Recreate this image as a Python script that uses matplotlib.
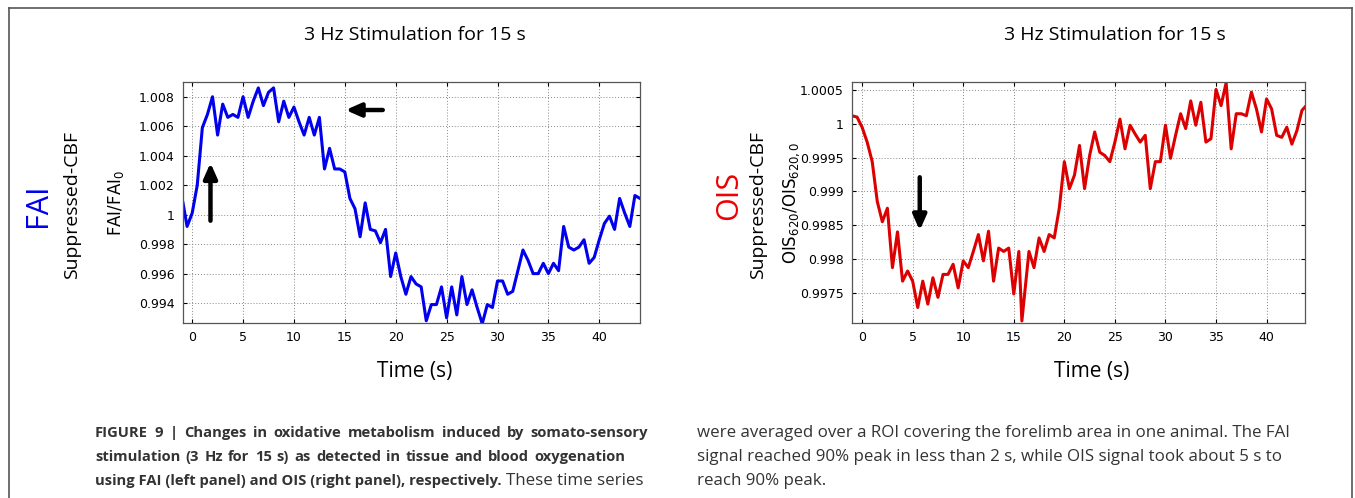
import numpy as np
import matplotlib
matplotlib.use("Agg")
import matplotlib.pyplot as plt
from matplotlib.lines import Line2D

fai_t = [-0.9, -0.5, 0, 0.5, 1, 1.5, 2, 2.5, 3, 3.5, 4, 4.5, 5, 5.5, 6, 6.5, 7, 7.5, 8, 8.5, 9, 9.5,
         10, 10.5, 11, 11.5, 12, 12.5, 13, 13.5, 14, 14.5, 15, 15.5, 16, 16.5, 17, 17.5, 18, 18.5, 19,
         19.5, 20, 20.5, 21, 21.5, 22, 22.5, 23, 23.5, 24, 24.5, 25, 25.5, 26, 26.5, 27, 27.5, 28, 28.5,
         29, 29.5, 30, 30.5, 31, 31.5, 32, 32.5, 33, 33.5, 34, 34.5, 35, 35.5, 36, 36.5, 37, 37.5, 38,
         38.5, 39, 39.5, 40, 40.5, 41, 41.5, 42, 42.5, 43, 43.5, 44]
fai_v = [1.0008, 0.9992, 1.0001, 1.0020, 1.0059, 1.0068, 1.0080, 1.0054, 1.0075, 1.0066, 1.0068, 1.0066,
         1.0080, 1.0066, 1.0077, 1.0086, 1.0074, 1.0083, 1.0086, 1.0063, 1.0077, 1.0066, 1.0073, 1.0063,
         1.0054, 1.0066, 1.0054, 1.0066, 1.0031, 1.0045, 1.0031, 1.0031, 1.0029, 1.0011, 1.0004, 0.9985,
         1.0008, 0.9990, 0.9989, 0.9981, 0.9990, 0.9958, 0.9974, 0.9958, 0.9946, 0.9958, 0.9953, 0.9951,
         0.9928, 0.9939, 0.9939, 0.9951, 0.9930, 0.9951, 0.9932, 0.9958, 0.9939, 0.9949, 0.9937, 0.9926,
         0.9939, 0.9937, 0.9955, 0.9955, 0.9946, 0.9948, 0.9962, 0.9976, 0.9969, 0.9960, 0.9960, 0.9967,
         0.9960, 0.9967, 0.9962, 0.9992, 0.9978, 0.9976, 0.9978, 0.9983, 0.9967, 0.9971, 0.9983, 0.9994,
         0.9999, 0.9990, 1.0011, 1.0001, 0.9992, 1.0013, 1.0011]

ois_t = [-1, -0.5, 0, 0.5, 1, 1.5, 2, 2.5, 3, 3.5, 4, 4.5, 5, 5.5, 6, 6.5, 7, 7.5, 8, 8.5, 9, 9.5,
         10, 10.5, 11, 11.5, 12, 12.5, 13, 13.5, 14, 14.5, 15, 15.5, 15.8, 16.5, 17, 17.5, 18, 18.5, 19,
         19.5, 20, 20.5, 21, 21.5, 22, 22.5, 23, 23.5, 24, 24.5, 25, 25.5, 26, 26.5, 27, 27.5, 28, 28.5,
         29, 29.5, 30, 30.5, 31, 31.5, 32, 32.5, 33, 33.5, 34, 34.5, 35, 35.5, 36, 36.5, 37, 37.5, 38,
         38.5, 39, 39.5, 40, 40.5, 41, 41.5, 42, 42.5, 43, 43.5, 43.8]
ois_v = [1.00012, 1.0001, 0.99995, 0.99973, 0.99944, 0.99885, 0.99855, 0.99875, 0.99787, 0.9984,
         0.99767, 0.99782, 0.99767, 0.99728, 0.99767, 0.99733, 0.99772, 0.99743, 0.99777, 0.99777,
         0.99792, 0.99757, 0.99797, 0.99787, 0.99811, 0.99836, 0.99797, 0.99841, 0.99767, 0.99816,
         0.99811, 0.99816, 0.99748, 0.99811, 0.99708, 0.99811, 0.99787, 0.99831, 0.99811, 0.99836,
         0.99831, 0.99875, 0.99944, 0.99904, 0.99924, 0.99968, 0.99904, 0.99953, 0.99988, 0.99958,
         0.99953, 0.99944, 0.99973, 1.00007, 0.99963, 0.99998, 0.99985, 0.99973, 0.99983, 0.99904,
         0.99944, 0.99944, 0.99998, 0.99949, 0.99983, 1.00015, 0.99993, 1.00034, 0.99998, 1.00032,
         0.99973, 0.99978, 1.00051, 1.00027, 1.00061, 0.99963, 1.00015, 1.00015, 1.00012, 1.00047,
         1.00022, 0.99988, 1.00037, 1.00022, 0.99983, 0.9998, 0.99995, 0.9997, 0.9999, 1.0002, 1.00025]

fai_yticks = [0.994, 0.996, 0.998, 1.0, 1.002, 1.004, 1.006, 1.008]
fai_yticklabels = ["0.994", "0.996", "0.998", "1", "1.002", "1.004", "1.006", "1.008"]
ois_yticks = [0.9975, 0.998, 0.9985, 0.999, 0.9995, 1.0, 1.0005]
ois_yticklabels = ["0.9975", "0.998", "0.9985", "0.999", "0.9995", "1", "1.0005"]
xticks = [0, 5, 10, 15, 20, 25, 30, 35, 40]

W, H = 1355, 498
fig = plt.figure(figsize=(W / 100, H / 100), dpi=100)

def fx(px): return px / W
def fy(py): return 1 - py / H

for xs, ys in [([9, 9], [498, 8]), ([9, 1352], [8, 8]), ([1352, 1352], [8, 498])]:
    fig.add_artist(Line2D([fx(x) for x in xs], [fy(y) for y in ys], color="#555555", lw=1.2))

def setup(ax, t, v, color, yt, ytl, ylim, xlim):
    ax.plot(t, v, color=color, lw=2.2)
    ax.set_xlim(*xlim)
    ax.set_ylim(*ylim)
    ax.set_xticks(xticks)
    ax.set_yticks(yt)
    ax.set_yticklabels(ytl)
    ax.grid(True, color="#888888", ls=(0, (1, 2)), lw=0.7)
    ax.tick_params(labelsize=9, direction="in", length=3, top=True, right=True, pad=6)
    for s in ax.spines.values():
        s.set_color("#555555"); s.set_linewidth(0.9)

ax1 = fig.add_axes([fx(183), fy(323), fx(640 - 183), (323 - 82) / H])
setup(ax1, fai_t, fai_v, "#0000ee", fai_yticks, fai_yticklabels, (0.99265, 1.009), (-0.9, 44))
ax2 = fig.add_axes([fx(852), fy(323), fx(1305 - 852), (323 - 82) / H])
setup(ax2, ois_t, ois_v, "#dd0000", ois_yticks, ois_yticklabels, (0.99705, 1.00062), (-1.0, 43.8))

ax1.set_ylabel("FAI/FAI$_0$", fontsize=12)
ax1.yaxis.set_label_coords(-0.125, 0.5)
ax2.set_ylabel("OIS$_{620}$/OIS$_{620,0}$", fontsize=12)
ax2.yaxis.set_label_coords(-0.11, 0.5)

tf = "Open Sans"
fig.text(fx(415), fy(35), "3 Hz Stimulation for 15 s", fontsize=14, family=tf, ha="center", va="center")
fig.text(fx(1115), fy(35), "3 Hz Stimulation for 15 s", fontsize=14, family=tf, ha="center", va="center")
fig.text(fx(415), fy(372), "Time (s)", fontsize=15, family=tf, ha="center", va="center")
fig.text(fx(1092), fy(372), "Time (s)", fontsize=15, family=tf, ha="center", va="center")
fig.text(fx(38), fy(205), "FAI", fontsize=22, family=tf, color="#0000ee", rotation=90, ha="center", va="center")
fig.text(fx(72), fy(205), "Suppressed-CBF", fontsize=14, family=tf, rotation=90, ha="center", va="center")
fig.text(fx(729), fy(195), "OIS", fontsize=22, family=tf, color="#ee0000", rotation=90, ha="center", va="center")
fig.text(fx(758), fy(205), "Suppressed-CBF", fontsize=14, family=tf, rotation=90, ha="center", va="center")

ap = dict(arrowstyle="-|>,head_length=0.9,head_width=0.4", color="black", lw=3.2)
ax1.annotate("", xy=(1.8, 1.0037), xytext=(1.8, 0.9994), arrowprops=ap)
ax1.annotate("", xy=(14.8, 1.0071), xytext=(19.0, 1.0071), arrowprops=ap)
ax2.annotate("", xy=(5.7, 0.99838), xytext=(5.7, 0.99925), arrowprops=ap)

cf = "Open Sans"
col = "#333333"
bs, ns = 10.6, 12.2
r = fig.canvas.get_renderer()

def justified(line, x0, x1, y, **kw):
    words = line.split()
    ts = [fig.text(0, fy(y), w, va="center", **kw) for w in words]
    ws = [t.get_window_extent(r).width for t in ts]
    gap = (x1 - x0 - sum(ws)) / (len(words) - 1)
    x = x0
    for t, w in zip(ts, ws):
        t.set_x(fx(x))
        x += w + gap

bkw = dict(fontsize=bs, family=cf, weight="bold", color=col)
nkw = dict(fontsize=ns, family=cf, color=col)
justified("FIGURE 9 | Changes in oxidative metabolism induced by somato-sensory", 95, 648, 433, **bkw)
justified("stimulation (3 Hz for 15 s) as detected in tissue and blood oxygenation", 95, 625, 457, **bkw)
b3 = fig.text(fx(95), fy(481), "using FAI (left panel) and OIS (right panel), respectively.", va="center", **bkw)
bb = b3.get_window_extent(r)
fig.text(bb.x1 / W + 4 / W, fy(481), "These time series", va="center", **nkw)
fig.text(fx(697), fy(433), "were averaged over a ROI covering the forelimb area in one animal. The FAI", va="center", **nkw)
fig.text(fx(697), fy(457), "signal reached 90% peak in less than 2 s, while OIS signal took about 5 s to", va="center", **nkw)
fig.text(fx(697), fy(481), "reach 90% peak.", va="center", **nkw)

fig.savefig("out.png", dpi=100)
